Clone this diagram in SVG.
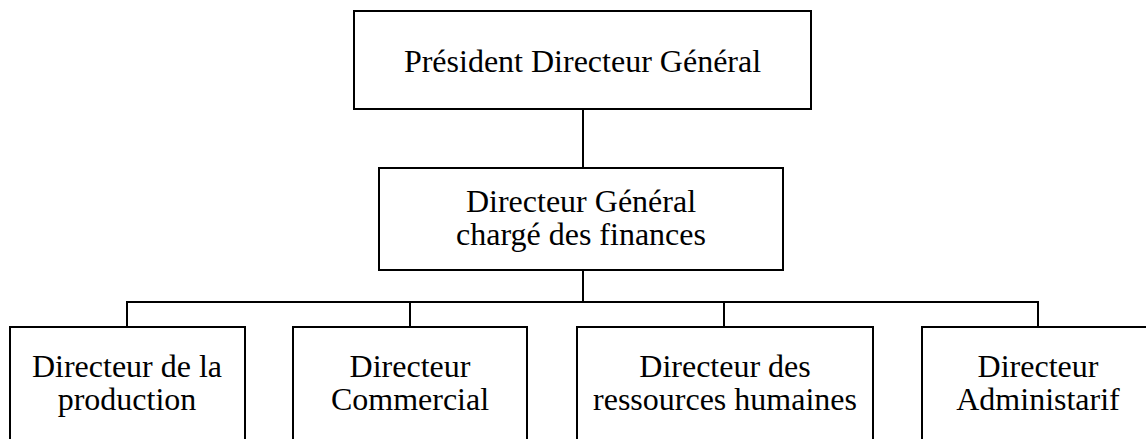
<svg xmlns="http://www.w3.org/2000/svg" width="1146" height="439" viewBox="0 0 1146 439">
<style>
.box{fill:#fff;stroke:#000;stroke-width:2}
.lbl{font-family:"Liberation Serif","Times New Roman",serif;font-size:32px;fill:#000;text-anchor:middle}
.con{fill:none;stroke:#000;stroke-width:2}
</style>
<rect width="1146" height="439" fill="#fff"/>
<g id="connectors">
<line class="con" x1="583" y1="109" x2="583" y2="168"/>
<line class="con" x1="583" y1="270" x2="583" y2="302"/>
<polyline class="con" points="127,327 127,302 1038,302 1038,327"/>
<line class="con" x1="410" y1="302" x2="410" y2="327"/>
<line class="con" x1="724" y1="302" x2="724" y2="327"/>
</g>
<g id="pdg">
<rect class="box" x="354" y="11" width="457" height="98"/>
<text class="lbl" x="582.5" y="72">Président Directeur Général</text>
</g>
<g id="dg">
<rect class="box" x="379" y="168" width="404" height="102"/>
<text class="lbl" x="581" y="212">Directeur Général</text>
<text class="lbl" x="581" y="245">chargé des finances</text>
</g>
<g id="production">
<rect class="box" x="10" y="327" width="235" height="130"/>
<text class="lbl" x="127" y="377">Directeur de la</text>
<text class="lbl" x="127" y="410">production</text>
</g>
<g id="commercial">
<rect class="box" x="293" y="327" width="234" height="130"/>
<text class="lbl" x="410" y="377">Directeur</text>
<text class="lbl" x="410" y="410">Commercial</text>
</g>
<g id="rh">
<rect class="box" x="577" y="327" width="296" height="130"/>
<text class="lbl" x="725" y="377">Directeur des</text>
<text class="lbl" x="725" y="410">ressources humaines</text>
</g>
<g id="admin">
<rect class="box" x="922" y="327" width="232" height="130"/>
<text class="lbl" x="1038" y="377">Directeur</text>
<text class="lbl" x="1038" y="410">Administarif</text>
</g>
</svg>
